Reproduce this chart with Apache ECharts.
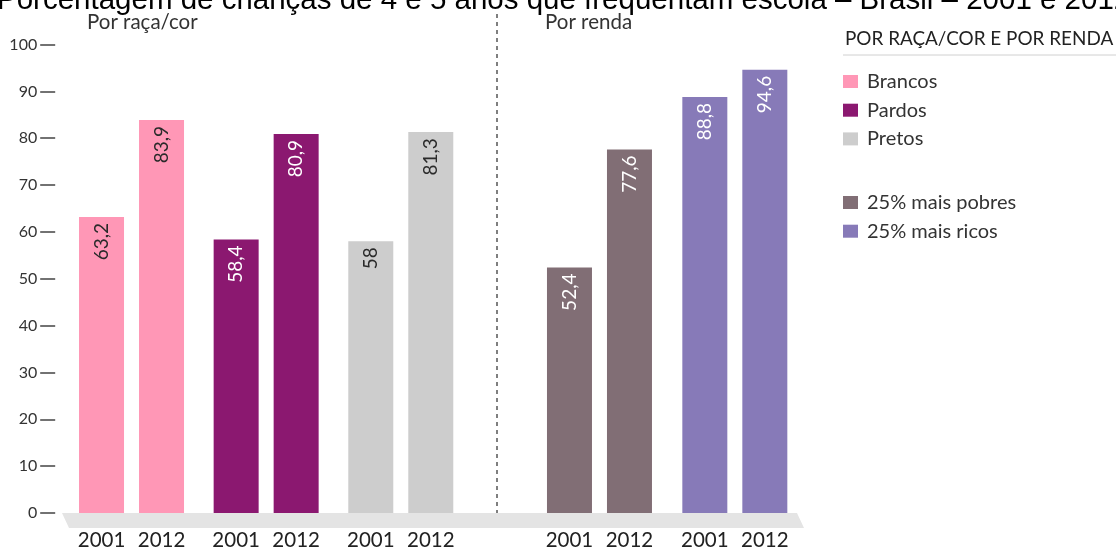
<!DOCTYPE html>
<html>
<head>
<meta charset="utf-8">
<script src="https://cdn.jsdelivr.net/npm/echarts@6/dist/echarts.min.js"></script>
<style>
html,body{margin:0;padding:0;background:#fff;}
#chart{width:1116px;height:556px;}
</style>
</head>
<body>
<div id="chart"></div>
<script>
// ---- data ----
const mainTitle = 'Porcentagem de crianças de 4 e 5 anos que frequentam escola – Brasil – 2001 e 2012';
const years = ['2001', '2012'];
const raceGroups = ['Brancos', 'Pardos', 'Pretos'];
const race2001 = [63.2, 58.4, 58];
const race2012 = [83.9, 80.9, 81.3];
const incomeGroups = ['25% mais pobres', '25% mais ricos'];
const income2001 = [52.4, 88.8];
const income2012 = [77.6, 94.6];
const sectionTitles = ['Por raça/cor', 'Por renda'];
const legendTitle = 'POR RAÇA/COR E POR RENDA';

// ---- styles ----
const FONT = 'Lato';
const raceColors = ['#ff97b6', '#8b1870', '#cdcdcd'];
const raceLabelColors = ['#2a2a2a', '#ffffff', '#2a2a2a'];
const incomeColors = ['#816e75', '#877ab8'];
const incomeLabelColors = ['#ffffff', '#ffffff'];

const series = [];
function addSeries(groups, valsByYear, colors, labelColors, axisIdx) {
  groups.forEach((g, i) => {
    valsByYear.forEach((vals, yi) => {
      series.push({
        type: 'bar',
        name: g,
        xAxisIndex: axisIdx,
        yAxisIndex: axisIdx,
        stack: 'g' + axisIdx + 'y' + yi,
        barWidth: 45,
        barGap: '33.33%',
        data: groups.map((_, j) => (j === i ? vals[j] : '-')),
        itemStyle: { color: colors[i] },
        label: {
          show: true,
          position: 'insideTop',
          rotate: 90,
          align: 'right',
          verticalAlign: 'middle',
          distance: 6,
          color: labelColors[i],
          fontSize: 19,
          fontFamily: FONT,
          formatter: p => String(p.value).replace('.', ',')
        }
      });
    });
  });
}
addSeries(raceGroups, [race2001, race2012], raceColors, raceLabelColors, 0);
addSeries(incomeGroups, [income2001, income2012], incomeColors, incomeLabelColors, 1);

function xAxisFor(idx, cats) {
  return {
    gridIndex: idx,
    type: 'category',
    data: cats,
    axisLine: { show: false },
    axisTick: { show: false },
    axisLabel: {
      margin: 17,
      formatter: () => years.map(y => '{a|' + y + '}').join(''),
      rich: { a: { width: 60, align: 'center', fontSize: 20.5, color: '#222', fontFamily: FONT } }
    }
  };
}

const chart = echarts.init(document.getElementById('chart'));
chart.setOption({
  animation: false,
  textStyle: { fontFamily: FONT },
  title: [
    { text: mainTitle, left: -3, top: -14, padding: 0,
      textStyle: { fontFamily: 'Liberation Sans', fontSize: 29.5, fontWeight: 'normal', color: '#000' } },
    { text: sectionTitles[0], left: 87, top: 12, padding: 0,
      textStyle: { fontFamily: FONT, fontSize: 20.5, fontWeight: 'normal', color: '#333' } },
    { text: sectionTitles[1], left: 545, top: 12, padding: 0,
      textStyle: { fontFamily: FONT, fontSize: 20.5, fontWeight: 'normal', color: '#333' } },
    { text: legendTitle, left: 845, top: 29, padding: 0,
      textStyle: { fontFamily: FONT, fontSize: 18.9, fontWeight: 'normal', color: '#222' } }
  ],
  legend: [
    { data: raceGroups, orient: 'vertical', left: 843, top: 71, padding: 0,
      icon: 'rect', itemWidth: 15, itemHeight: 13, itemGap: 7.7,
      textStyle: { fontSize: 20, lineHeight: 21, color: '#333', fontFamily: FONT, padding: [0, 0, 0, 4] } },
    { data: incomeGroups, orient: 'vertical', left: 843, top: 192, padding: 0,
      icon: 'rect', itemWidth: 15, itemHeight: 13, itemGap: 7.7,
      textStyle: { fontSize: 20, lineHeight: 21, color: '#333', fontFamily: FONT, padding: [0, 0, 0, 4] } }
  ],
  grid: [
    { left: 64.2, right: 647.9, top: 44.5, bottom: 43 },
    { left: 531.8, right: 313.5, top: 44.5, bottom: 43 }
  ],
  xAxis: [xAxisFor(0, raceGroups), xAxisFor(1, incomeGroups)],
  yAxis: [
    { gridIndex: 0, type: 'value', min: 0, max: 100, interval: 10, offset: 9,
      axisLine: { show: false },
      axisTick: { show: true, length: 15, lineStyle: { color: '#444', width: 1.5 } },
      axisLabel: { margin: 18, fontSize: 16, color: '#333', fontFamily: FONT },
      splitLine: { show: false } },
    { gridIndex: 1, type: 'value', min: 0, max: 100, interval: 10, show: false, splitLine: { show: false } }
  ],
  graphic: [
    { type: 'polygon', z: 0, shape: { points: [[62, 513], [797, 513], [804, 528], [69, 528]] },
      style: { fill: '#e4e4e4' } },
    { type: 'line', shape: { x1: 497, y1: 14, x2: 497, y2: 513 },
      style: { stroke: '#555', lineWidth: 1.5, lineDash: [4, 4] } },
    { type: 'line', shape: { x1: 843, y1: 55, x2: 1116, y2: 55 },
      style: { stroke: '#d0d0d0', lineWidth: 1 } }
  ],
  series: series
});
</script>
</body>
</html>
